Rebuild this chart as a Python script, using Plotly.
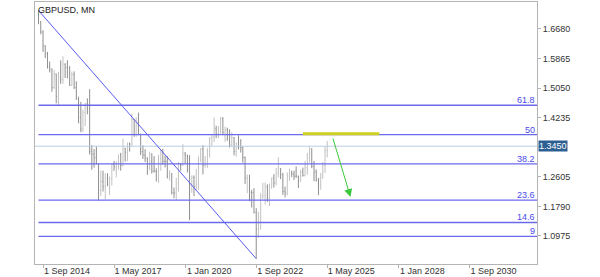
import pandas as pd
import plotly.graph_objects as go

# ---------------- data ----------------
months = pd.date_range("2014-07-01", "2025-05-01", freq="MS")
first_open = 1.7110
highs = [
    1.7192, 1.6900, 1.6645, 1.6230, 1.6050, 1.5785,
    1.5590, 1.5552, 1.5450, 1.5498, 1.5815, 1.5930, 1.5735, 1.5820, 1.5660, 1.5510, 1.5510, 1.5240,
    1.4815, 1.4670, 1.4460, 1.4640, 1.4770, 1.5020, 1.3480, 1.3370, 1.3445, 1.2975, 1.2775, 1.2775,
    1.2705, 1.2705, 1.2615, 1.2965, 1.3045, 1.3030, 1.3215, 1.3265, 1.3655, 1.3400, 1.3550, 1.3550,
    1.4345, 1.4200, 1.4245, 1.4375, 1.3800, 1.3475, 1.3365, 1.3140, 1.3300, 1.3260, 1.3175, 1.2840,
    1.3215, 1.3350, 1.3380, 1.3195, 1.3175, 1.2785, 1.2710, 1.2310, 1.2580, 1.3010, 1.2985, 1.3515,
    1.3285, 1.3210, 1.3200, 1.2645, 1.2645, 1.2815, 1.3170, 1.3395, 1.3480, 1.3175, 1.3395, 1.3700,
    1.3760, 1.4240, 1.4015, 1.4010, 1.4250, 1.4250, 1.3985, 1.3960, 1.3915, 1.3835, 1.3700, 1.3550,
    1.3750, 1.3645, 1.3440, 1.3165, 1.2665, 1.2665, 1.2245, 1.2295, 1.1740, 1.1645, 1.2155, 1.2445,
    1.2450, 1.2400, 1.2425, 1.2585, 1.2680, 1.2850, 1.3145, 1.2840, 1.2715, 1.2335, 1.2730, 1.2830,
    1.2775, 1.2775, 1.2895, 1.2635, 1.2800, 1.2860, 1.3045, 1.3265, 1.3435, 1.3390, 1.3045, 1.2810,
    1.2575, 1.2715, 1.3015, 1.3445, 1.3595,
]
lows = [
    1.6812, 1.6535, 1.6050, 1.5875, 1.5590, 1.5485,
    1.4950, 1.5025, 1.4633, 1.4565, 1.5170, 1.5170, 1.5330, 1.5330, 1.5110, 1.5110, 1.5025, 1.4730,
    1.4080, 1.3835, 1.3840, 1.4005, 1.4330, 1.3220, 1.2800, 1.2860, 1.2950, 1.1950, 1.2080, 1.2200,
    1.1985, 1.2345, 1.2110, 1.2365, 1.2770, 1.2590, 1.2810, 1.2775, 1.2890, 1.3025, 1.3040, 1.3300,
    1.3460, 1.3710, 1.3710, 1.3755, 1.3205, 1.3100, 1.3010, 1.2660, 1.2785, 1.2695, 1.2725, 1.2475,
    1.2440, 1.2770, 1.2945, 1.2865, 1.2560, 1.2505, 1.2120, 1.2015, 1.1960, 1.2195, 1.2770, 1.2905,
    1.2960, 1.2725, 1.1410, 1.2165, 1.2075, 1.2255, 1.2250, 1.3005, 1.2675, 1.2860, 1.2855, 1.3135,
    1.3450, 1.3565, 1.3670, 1.3670, 1.3800, 1.3785, 1.3570, 1.3600, 1.3410, 1.3435, 1.3195, 1.3160,
    1.3360, 1.3275, 1.3000, 1.2410, 1.2155, 1.1935, 1.1760, 1.1600, 1.0350, 1.0925, 1.1145, 1.1990,
    1.1840, 1.1915, 1.1800, 1.2275, 1.2310, 1.2370, 1.2590, 1.2545, 1.2110, 1.2040, 1.2095, 1.2500,
    1.2595, 1.2520, 1.2575, 1.2300, 1.2465, 1.2610, 1.2615, 1.2665, 1.3000, 1.2845, 1.2485, 1.2475,
    1.2100, 1.2250, 1.2560, 1.2710, 1.3140,
]
closes = [
    1.6883, 1.6597, 1.6214, 1.5995, 1.5640, 1.5577,
    1.5066, 1.5440, 1.4820, 1.5353, 1.5280, 1.5710, 1.5615, 1.5330, 1.5125, 1.5425, 1.5065, 1.4740,
    1.4250, 1.3920, 1.4370, 1.4615, 1.4485, 1.3310, 1.3230, 1.3130, 1.2970, 1.2240, 1.2480, 1.2340,
    1.2580, 1.2410, 1.2550, 1.2945, 1.2885, 1.3025, 1.3210, 1.2920, 1.3395, 1.3285, 1.3525, 1.3505,
    1.4190, 1.3775, 1.4025, 1.3765, 1.3300, 1.3200, 1.3125, 1.2965, 1.3035, 1.2765, 1.2755, 1.2755,
    1.3110, 1.3260, 1.3035, 1.3035, 1.2620, 1.2695, 1.2160, 1.2160, 1.2290, 1.2940, 1.2935, 1.3260,
    1.3205, 1.2815, 1.2400, 1.2590, 1.2345, 1.2400, 1.3085, 1.3370, 1.2920, 1.2945, 1.3330, 1.3670,
    1.3705, 1.3930, 1.3785, 1.3815, 1.4220, 1.3830, 1.3900, 1.3755, 1.3475, 1.3685, 1.3300, 1.3530,
    1.3445, 1.3415, 1.3140, 1.2570, 1.2625, 1.2175, 1.2165, 1.1620, 1.1170, 1.1465, 1.2055, 1.2095,
    1.2325, 1.2020, 1.2335, 1.2570, 1.2440, 1.2705, 1.2835, 1.2665, 1.2200, 1.2155, 1.2625, 1.2730,
    1.2680, 1.2625, 1.2625, 1.2490, 1.2740, 1.2645, 1.2860, 1.3125, 1.3375, 1.2895, 1.2735, 1.2515,
    1.2390, 1.2575, 1.2915, 1.3330, 1.3450,
]
opens = [first_open] + closes[:-1]

symbol_title = "GBPUSD, MN"
current_price = 1.3450
ytick_vals = [1.0975, 1.1790, 1.2605, 1.4235, 1.5050, 1.5865, 1.6680]
xtick_dates = ["2014-09-01", "2017-05-01", "2020-01-01", "2022-09-01",
               "2025-05-01", "2028-01-01", "2030-09-01"]

fib_start = "2014-07-01"
fib_high = 1.7190
fib_low = 1.0350
fib_levels = [61.8, 50, 38.2, 23.6, 14.6, 9]

trend_x = ["2014-07-01", "2022-09-01"]
trend_y = [1.7190, 1.0350]

zone_x = ["2024-06-01", "2027-04-15"]
zone_y = [1.379, 1.379]

arrow_from = ("2025-07-13", 1.3703)
arrow_to = ("2026-03-16", 1.2049)

x_range = ["2014-05-14", "2033-03-15"]
y_range = [1.0203, 1.7424]

# ---------------- figure ----------------
fig = go.Figure()

fib_color = "#6a6aee"
for lvl in fib_levels:
    price = fib_low + lvl / 100.0 * (fib_high - fib_low)
    fig.add_trace(go.Scatter(x=[fib_start, x_range[1]], y=[price, price], mode="lines",
                             line=dict(color=fib_color, width=1.4), hoverinfo="skip",
                             showlegend=False))
    fig.add_annotation(x=x_range[1], y=price, xref="x", yref="y", text=f"{lvl:g}",
                       showarrow=False, xanchor="right", yanchor="bottom", yshift=-2,
                       font=dict(size=9, color="#4a4ae8", family="Liberation Sans"))

# current price line
fig.add_trace(go.Scatter(x=x_range, y=[current_price, current_price], mode="lines",
                         line=dict(color="#b9cde2", width=1), hoverinfo="skip", showlegend=False))

# yellow zone
fig.add_trace(go.Scatter(x=zone_x, y=zone_y, mode="lines",
                         line=dict(color="#cfcf1e", width=3), hoverinfo="skip", showlegend=False))

# trendline
fig.add_trace(go.Scatter(x=trend_x, y=trend_y, mode="lines",
                         line=dict(color="#5a5af0", width=1), hoverinfo="skip", showlegend=False))

# OHLC bars
fig.add_trace(go.Ohlc(x=months, open=opens, high=highs, low=lows, close=closes,
                      increasing=dict(line=dict(color="#c2c2c2", width=1)),
                      decreasing=dict(line=dict(color="#8e8e8e", width=1)),
                      tickwidth=0.3, showlegend=False, hoverinfo="skip"))

# green arrow
fig.add_annotation(x=arrow_to[0], y=arrow_to[1], ax=arrow_from[0], ay=arrow_from[1],
                   xref="x", yref="y", axref="x", ayref="y", text="",
                   showarrow=True, arrowhead=2, arrowsize=1.6, arrowwidth=1,
                   arrowcolor="#3cc83c")

# title
fig.add_annotation(x=0, y=1, xref="paper", yref="paper", text=symbol_title, showarrow=False,
                   xanchor="left", yanchor="top", xshift=1, yshift=-1,
                   font=dict(size=9, color="#222222", family="Liberation Sans"))

# current price tag
fig.add_annotation(x=1, y=current_price, xref="paper", yref="y", text=f"{current_price:.4f}",
                   showarrow=False, xanchor="left", yanchor="middle", xshift=1,
                   bgcolor="#2e5f92", borderpad=0,
                   font=dict(size=9, color="#ffffff", family="Liberation Sans"))

fig.update_layout(
    width=600, height=277,
    margin=dict(l=35, r=63, t=2, b=13, autoexpand=False),
    paper_bgcolor="white", plot_bgcolor="white",
    showlegend=False,
    xaxis=dict(type="date", range=x_range, tickvals=xtick_dates, tickformat="1 %b %Y",
               showgrid=False, zeroline=False, rangeslider=dict(visible=False),
               showline=True, linecolor="#b4b4b4", linewidth=1, mirror=True,
               ticks="outside", ticklen=3, tickcolor="#b4b4b4", automargin=False,
               ticklabelshift=24, ticklabelstandoff=-5,
               tickfont=dict(size=9, color="#333333", family="Liberation Sans")),
    yaxis=dict(side="right", range=y_range, tickvals=ytick_vals, tickformat=".4f",
               showgrid=False, zeroline=False, automargin=False,
               showline=True, linecolor="#b4b4b4", linewidth=1, mirror=True,
               ticks="outside", ticklen=3, tickcolor="#b4b4b4",
               tickfont=dict(size=9, color="#333333", family="Liberation Sans")),
)

fig.write_html("out.html")
